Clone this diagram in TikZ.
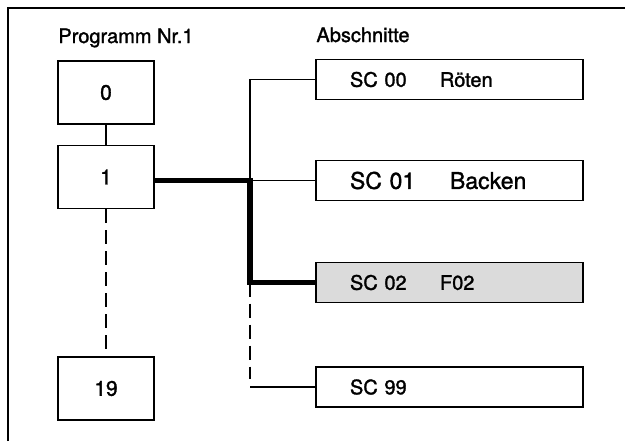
\documentclass[tikz,border=0pt]{standalone}
\usepackage{fontspec}
\setmainfont{TeX Gyre Heros}[BoldFont={TeX Gyre Heros}, BoldFeatures={FakeBold=1.4}]
\usetikzlibrary{positioning}

\begin{document}
\begin{tikzpicture}[
        x=0.5pt,
        y=-0.5pt,
        frame/.style={line width=1pt},
        prgbox/.style={draw, line width=0.7pt, minimum width=48pt, minimum height=31.5pt, inner sep=0pt, font=\fontsize{10.5}{12}\bfseries},
        scbox/.style={draw, line width=0.7pt, minimum height=20pt, text width=99.5pt, inner xsep=17pt, inner ysep=0pt, align=left, font=\fontsize{10}{12}\bfseries},
        heading/.style={anchor=base west, inner sep=0pt, font=\fontsize{10}{12}\bfseries},
        link/.style={line width=0.6pt},
        dashlink/.style={line width=0.6pt, dash pattern=on 7pt off 3.5pt},
        active/.style={line width=2.6pt}
    ]
        \useasboundingbox (0,0) rectangle (625,441);
        \draw[frame] (8,441) -- (8,8) -- (625,8);

        % Programme
        \node[heading] (prgtitle) at (58,43) {Programm Nr.1};
        \node[prgbox] (p0) at (106,92.5) {0};
        \node[prgbox] (p1) at (106,177) {1};
        \node[prgbox] (p19) at (106,388.5) {19};
        \draw[link] (p0) -- (p1);
        \draw[dashlink] (p1) -- (p19);

        % Abschnitte
        \node[heading] (sctitle) at (316,42) {Abschnitte};
        \node[scbox] (sc00) at (449.5,79.5) {\makebox[45pt][l]{SC 00}R\"oten};
        \node[scbox, font=\fontsize{11.5}{13}\bfseries] (sc01) at (449.5,180.5) {\makebox[50pt][l]{SC 01}Backen};
        \node[scbox, fill=black!14] (sc02) at (449.5,282.5) {\makebox[45pt][l]{SC 02}F02};
        \node[scbox] (sc99) at (449.5,387) {SC 99};

        \coordinate (bus) at (250,0);
        \draw[link] (sc00.west) -| (bus |- sc01.west) -- (sc01.west);
        \draw[dashlink] (bus |- sc02.west) -- ([yshift=4pt]bus |- sc99.west);
        \draw[link] (bus |- sc99.west) -- (sc99.west);
        \draw[active, line join=miter] (p1.east |- sc01.west) -- (bus |- sc01.west) |- (sc02.west);
    \end{tikzpicture}
\end{document}
